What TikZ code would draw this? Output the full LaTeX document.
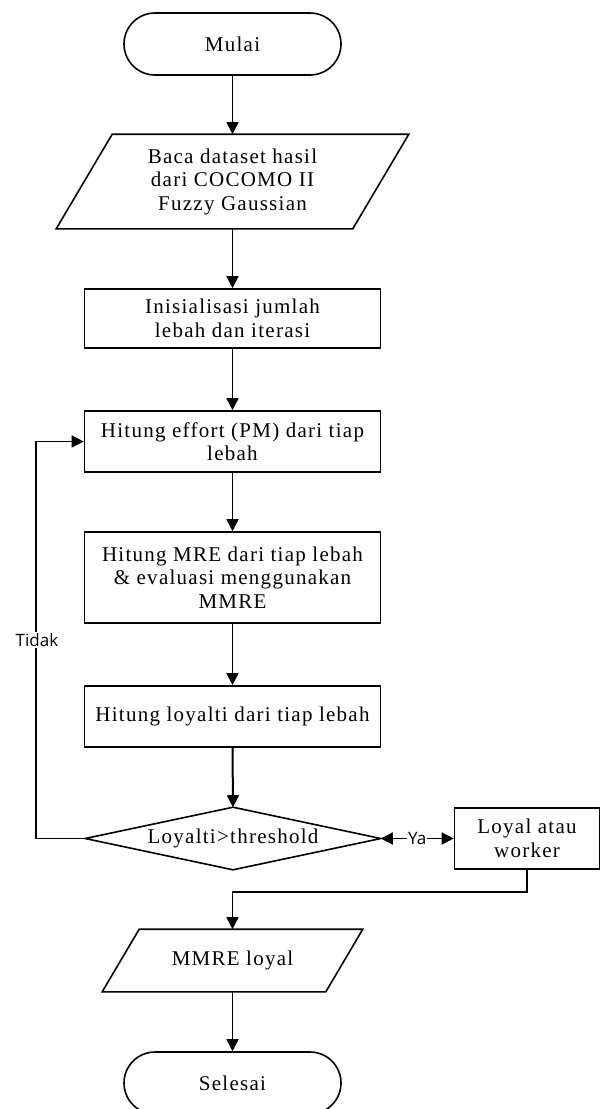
\documentclass[tikz,border=0pt]{standalone}
\usepackage{fontspec}
\setmainfont{Liberation Serif}[LetterSpace=6]
\newfontfamily\lblfont{Open Sans}
\usetikzlibrary{shapes.misc,arrows.meta,calc}
\tikzset{
  base/.style={font=\fontsize{21}{23.5}\selectfont, align=center, inner sep=2pt, line width=1.6pt},
  term/.style={base, draw, rounded rectangle, minimum width=221, minimum height=62},
  proc/.style={base, draw, rectangle, minimum width=296},
  ghost/.style={base, rectangle},
  arr/.style={line width=1.6pt, -{Triangle[length=12pt,width=12pt]}},
  dbl/.style={line width=1.6pt, {Triangle[length=12pt,width=12pt]}-{Triangle[length=12pt,width=12pt]}},
  lbl/.style={font=\lblfont\fontsize{17}{20}\selectfont, fill=white, inner sep=1pt}
}
\begin{document}
\begin{tikzpicture}[x=1pt,y=-1pt]
\useasboundingbox (0,0) rectangle (602,1109);
\clip (0,0) rectangle (602,1109);
\fill[white] (0,0) rectangle (602,1109);

\node[term] (start) at (232.5,44) {Mulai};
\node[ghost, minimum width=351, minimum height=93] (p1) at (232.5,181.5) {Baca dataset hasil\\dari COCOMO II\\Fuzzy Gaussian};
\draw[line width=1.6pt] (p1.south west) -- ($(p1.north west)+(56,0)$) -- (p1.north east) -- ($(p1.south east)-(56,0)$) -- cycle;
\node[proc, minimum height=59] (r1) at (232.5,318.5) {Inisialisasi jumlah\\lebah dan iterasi};
\node[proc, minimum height=61] (r2) at (232.5,441.5) {Hitung effort (PM) dari tiap\\lebah};
\node[proc, minimum height=91] (r3) at (232.5,577.5) {Hitung MRE dari tiap lebah\\\& evaluasi menggunakan\\MMRE};
\node[proc, minimum height=61] (r4) at (232.5,716.5) {Hitung loyalti dari tiap lebah};
\node[ghost, minimum width=294, minimum height=61] (d) at (233,838.5) {Loyalti>threshold};
\draw[line width=1.6pt] (d.west) -- (d.north) -- (d.east) -- (d.south) -- cycle;
\node[proc, minimum width=145, minimum height=61] (loyal) at (527,838.5) {Loyal atau\\worker};
\node[ghost, minimum width=259, minimum height=61] (p2) at (232.5,960.5) {MMRE loyal};
\draw[line width=1.6pt] (p2.south west) -- ($(p2.north west)+(37,0)$) -- (p2.north east) -- ($(p2.south east)-(37,0)$) -- cycle;
\node[term] (end) at (232.5,1083) {Selesai};

\draw[arr] (start.south) -- (p1.north);
\draw[arr] (p1.south) -- (r1.north);
\draw[arr] (r1.south) -- (r2.north);
\draw[arr] (r2.south) -- (r3.north);
\draw[arr] (r3.south) -- (r4.north);
\draw[arr, line width=2pt] (r4.south) -- (d.north);
\draw[arr] (d.west) -- ++(-49,0) |- (r2.west);
\node[lbl] (tidak) at (37,640) {Tidak};
\draw[dbl] (d.east) -- (loyal.west);
\node[lbl] (ya) at ($(d.east)!0.5!(loyal.west)$) {Ya};
\draw[arr] (loyal.south) -- ++(0,22) -| (p2.north);
\draw[arr] (p2.south) -- (end.north);
\end{tikzpicture}
\end{document}
